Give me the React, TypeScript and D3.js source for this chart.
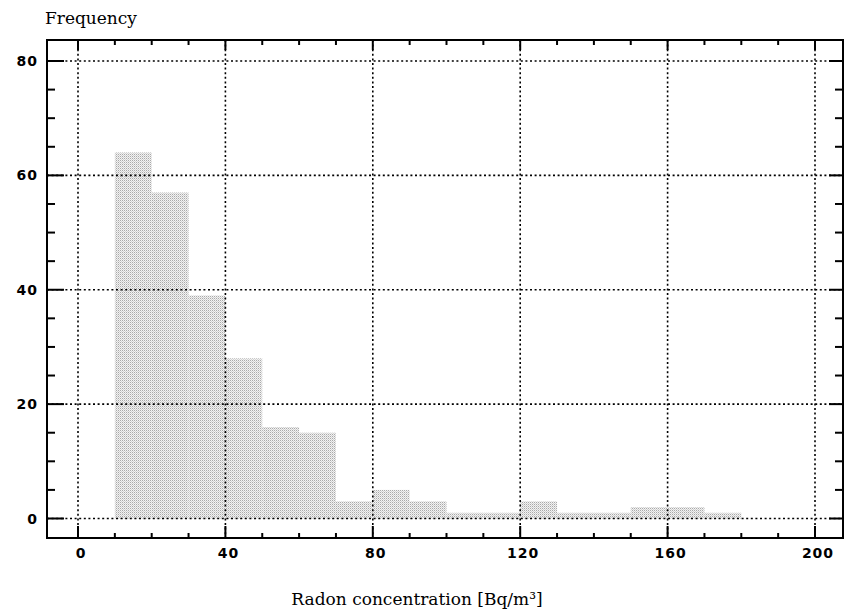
import { useEffect, useRef } from "react";
import * as d3 from "d3";

// histogram bins, 10 Bq/m3 wide
const binStarts = [10, 20, 30, 40, 50, 60, 70, 80, 90, 100, 110, 120, 130, 140, 150, 160, 170];
const counts = [64, 57, 39, 28, 16, 15, 3, 5, 3, 1, 1, 3, 1, 1, 2, 2, 1];
const binWidth = 10;

const xMajor = [0, 40, 80, 120, 160, 200];
const xMinor = d3.range(0, 201, 10);
const yMajor = [0, 20, 40, 60, 80];
const yMinor = d3.range(0, 81, 5);

export default function App() {
  const svgRef = useRef<SVGSVGElement>(null);

  useEffect(() => {
    const el = svgRef.current;
    if (!el) return;
    d3.select(el).selectAll("*").remove();

    const W = 845;
    const H = 612;
    const box = { left: 47, right: 843, top: 40, bottom: 538 };

    const xs = d3.scaleLinear().domain([0, 200]).range([78, 815]);
    const ys = d3.scaleLinear().domain([0, 80]).range([518.5, 61]);

    const svg = d3.select(el).attr("viewBox", `0 0 ${W} ${H}`);

    // stipple pattern for the bars
    const pat = svg
      .append("defs")
      .append("pattern")
      .attr("id", "stip")
      .attr("width", 2)
      .attr("height", 2)
      .attr("patternUnits", "userSpaceOnUse");
    pat.append("rect").attr("width", 2).attr("height", 2).attr("fill", "#f2f2f2");
    pat.append("rect").attr("width", 1).attr("height", 1).attr("fill", "#a9a9a9");
    pat.append("rect").attr("x", 1).attr("y", 1).attr("width", 1).attr("height", 1).attr("fill", "#d2d2d2");

    // Bars
    svg
      .selectAll(".bar")
      .data(binStarts)
      .enter()
      .append("rect")
      .attr("x", (d) => xs(d))
      .attr("width", (d) => xs(d + binWidth) - xs(d))
      .attr("y", (d, i) => ys(counts[i]))
      .attr("height", (d, i) => ys(0) - ys(counts[i]))
      .attr("fill", "url(#stip)");

    // Dotted grid
    const grid = svg.append("g").attr("stroke", "#000").attr("stroke-width", 1.6).attr("stroke-dasharray", "2 2.6");
    grid
      .selectAll(".gx")
      .data(xMajor)
      .enter()
      .append("line")
      .attr("x1", (d) => xs(d))
      .attr("x2", (d) => xs(d))
      .attr("y1", box.top)
      .attr("y2", box.bottom);
    grid
      .selectAll(".gy")
      .data(yMajor)
      .enter()
      .append("line")
      .attr("x1", box.left)
      .attr("x2", box.right)
      .attr("y1", (d) => ys(d))
      .attr("y2", (d) => ys(d));

    // Frame
    svg
      .append("rect")
      .attr("x", box.left)
      .attr("y", box.top)
      .attr("width", box.right - box.left)
      .attr("height", box.bottom - box.top)
      .attr("fill", "none")
      .attr("stroke", "#000")
      .attr("stroke-width", 2);

    // Ticks, all pointing inward
    const ticks = svg.append("g").attr("stroke", "#000").attr("stroke-width", 2);
    xMinor.forEach((v) => {
      const len = v % 40 === 0 ? 12 : 5;
      const x = xs(v);
      ticks.append("line").attr("x1", x).attr("x2", x).attr("y1", box.bottom).attr("y2", box.bottom - len);
      ticks.append("line").attr("x1", x).attr("x2", x).attr("y1", box.top).attr("y2", box.top + (v % 40 === 0 ? 10 : 5));
    });
    yMinor.forEach((v) => {
      const major = v % 20 === 0;
      const y = ys(v);
      ticks.append("line").attr("x1", box.left).attr("x2", box.left + (major ? 17 : 8)).attr("y1", y).attr("y2", y);
      ticks.append("line").attr("x1", box.right).attr("x2", box.right - (major ? 14 : 8)).attr("y1", y).attr("y2", y);
    });

    // Tick labels
    const tickFont = "DejaVu Sans, Verdana, sans-serif";
    svg
      .selectAll(".xl")
      .data(xMajor)
      .enter()
      .append("text")
      .attr("x", (d) => xs(d) + 3)
      .attr("y", 558)
      .attr("text-anchor", "middle")
      .attr("fill", "#000")
      .style("font-size", "14px")
      .style("font-weight", "bold")
      .style("font-family", tickFont)
      .style("letter-spacing", "1px")
      .text((d) => d);
    svg
      .selectAll(".yl")
      .data(yMajor)
      .enter()
      .append("text")
      .attr("x", 38)
      .attr("y", (d) => ys(d) + 5)
      .attr("text-anchor", "end")
      .attr("fill", "#000")
      .style("font-size", "14px")
      .style("font-weight", "bold")
      .style("font-family", tickFont)
      .style("letter-spacing", "1px")
      .text((d) => d);

    // Axis titles
    const titleFont = "DejaVu Serif, Liberation Serif, serif";
    svg
      .append("text")
      .attr("x", 45)
      .attr("y", 24)
      .attr("fill", "#000")
      .style("font-size", "17px")
      .style("font-family", titleFont)
      .text("Frequency");
    svg
      .append("text")
      .attr("x", 417)
      .attr("y", 605)
      .attr("text-anchor", "middle")
      .attr("fill", "#000")
      .style("font-size", "17px")
      .style("font-family", titleFont)
      .text("Radon concentration [Bq/m³]");
  }, []);

  return (
    <svg
      ref={svgRef}
      width={845}
      height={612}
      style={{ position: "absolute", left: 0, top: 0, background: "#fff" }}
    />
  );
}
